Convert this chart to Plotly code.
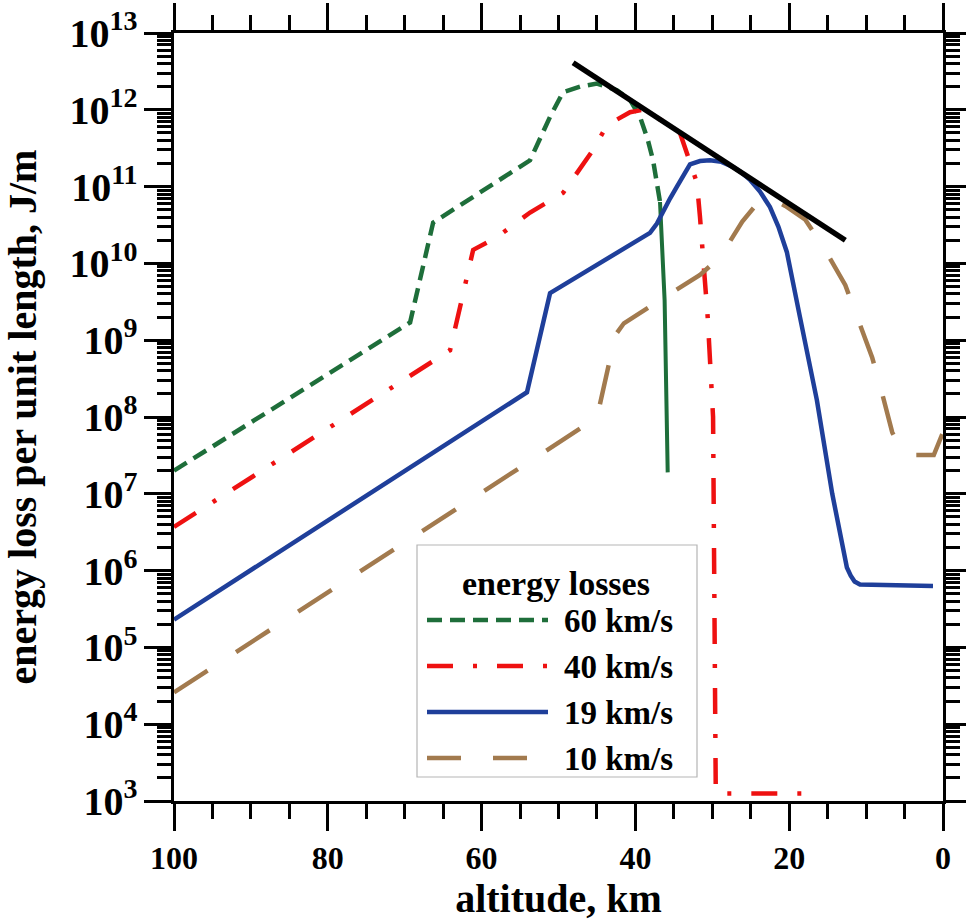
import plotly.graph_objects as go

# ---------------- data ----------------
alt_60_dash = [100, 69.3, 66.3, 53.7, 51.1, 49.4, 47.2, 45.0, 42.4, 40.7, 39.4, 38.4, 37.7, 37.1, 36.8]
e_60_dash = [2.0e7, 1.7e9, 3.4e10, 2.2e11, 8.1e11, 1.7e12, 2.0e12, 2.2e12, 1.8e12, 1.35e12, 8.1e11, 4.1e11, 2.2e11, 9.1e10, 6.3e10]
alt_60_solid = [36.8, 36.2, 35.8]
e_60_solid = [6.3e10, 3.3e9, 1.9e7]

alt_40 = [100, 64.1, 62.8, 61.1, 58.0, 53.7, 49.4, 47.2, 45.5, 43.7, 40.7, 39.0, 36.5, 34.2, 33.2, 32.0,
          31.6, 30.6, 29.9, 29.7, 29.55, 29.0, 17.8]
e_40 = [3.7e6, 7.4e8, 2.7e9, 1.5e10, 2.2e10, 4.6e10, 8.3e10, 1.66e11, 3.0e11, 6.3e11, 9.3e11, 1.0e12, 7.2e11,
        5.0e11, 2.45e11, 1.12e11, 4.0e10, 2.0e9, 1.0e8, 3.2e5, 1.3e3, 1.25e3, 1.25e3]

alt_19 = [100, 54.1, 51.1, 38.1, 37.2, 36.5, 35.5, 34.6, 33.7, 32.9, 31.6, 30.3, 28.8, 27.3, 26.2, 25.1, 23.8,
          22.5, 21.4, 20.3, 18.6, 16.4, 14.4, 12.5, 12.0, 11.5, 10.8, 1.3]
e_19 = [2.3e5, 2.1e8, 4.1e9, 2.5e10, 3.3e10, 4.6e10, 7.0e10, 1.0e11, 1.45e11, 1.95e11, 2.15e11, 2.2e11, 2.1e11,
        1.8e11, 1.52e11, 1.23e11, 8.6e10, 5.4e10, 3.0e10, 1.4e10, 2.0e9, 1.66e8, 1.0e7, 1.1e6, 8.6e5, 7.2e5, 6.6e5, 6.3e5]

alt_10 = [100, 45.0, 42.6, 41.5, 31.6, 29.0, 26.1, 24.0, 22.5, 20.5, 17.9, 15.3, 12.7, 11.1, 9.2, 7.9, 6.6, 5.3, 4.3, 1.2, 0]
e_10 = [2.6e4, 9.8e7, 1.17e9, 1.66e9, 7.1e9, 1.2e10, 3.5e10, 6.3e10, 7.2e10, 5.6e10, 3.7e10, 1.48e10, 5.2e9,
        1.95e9, 5.9e8, 2.0e8, 6.3e7, 3.5e7, 3.2e7, 3.2e7, 6.3e7]

alt_env = [48.1, 12.7]
e_env = [4.1e12, 2.0e10]

legend_labels = ["60 km/s", "40 km/s", "19 km/s", "10 km/s"]
legend_title = "energy losses"
x_ticks = [0, 20, 40, 60, 80, 100]

# ---------------- styles ----------------
C_GREEN = "#1e6e3a"
C_RED = "#ee1111"
C_BLUE = "#1f3f9a"
C_BROWN = "#a27a4e"
DASH_60 = "15px,8px"
DASH_40 = "26px,20px,4px,20px"
DASH_10 = "40px,34px"
LW = 4.5
FONT = "Liberation Serif"

fig = go.Figure()
fig.add_trace(go.Scatter(x=alt_60_dash, y=e_60_dash, mode="lines",
                         line=dict(color=C_GREEN, width=LW, dash=DASH_60), showlegend=False))
fig.add_trace(go.Scatter(x=alt_60_solid, y=e_60_solid, mode="lines",
                         line=dict(color=C_GREEN, width=LW - 0.5), showlegend=False))
fig.add_trace(go.Scatter(x=alt_40, y=e_40, mode="lines",
                         line=dict(color=C_RED, width=LW, dash=DASH_40), showlegend=False))
fig.add_trace(go.Scatter(x=alt_19, y=e_19, mode="lines",
                         line=dict(color=C_BLUE, width=LW), showlegend=False))
fig.add_trace(go.Scatter(x=alt_10, y=e_10, mode="lines",
                         line=dict(color=C_BROWN, width=LW, dash=DASH_10), showlegend=False))
fig.add_trace(go.Scatter(x=alt_env, y=e_env, mode="lines",
                         line=dict(color="black", width=5.5), showlegend=False))

# ---------------- custom legend (paper coordinates) ----------------
W, H = 966, 923
ML, MR, MT, MB = 174, 23, 33, 122
PW, PH = W - ML - MR, H - MT - MB


def px_x(p):
    return (p - ML) / PW


def px_y(p):
    return (H - MB - p) / PH


shapes = [dict(type="rect", xref="paper", yref="paper",
               x0=px_x(417), x1=px_x(697), y0=px_y(777), y1=px_y(545),
               line=dict(color="#b5b5b5", width=1.2), fillcolor="white", layer="above")]
annotations = [dict(xref="paper", yref="paper", x=px_x(556), y=px_y(583), text=legend_title,
                    showarrow=False, xanchor="center", yanchor="middle",
                    font=dict(family=FONT, size=34, color="black", weight="bold"))]
leg_styles = [(C_GREEN, DASH_60), (C_RED, DASH_40), (C_BLUE, "solid"), (C_BROWN, "34px,32px")]
leg_y = [620, 666, 712, 758]
for (col, dsh), yy, lab in zip(leg_styles, leg_y, legend_labels):
    shapes.append(dict(type="line", xref="paper", yref="paper",
                       x0=px_x(427), x1=px_x(548), y0=px_y(yy), y1=px_y(yy),
                       line=dict(color=col, width=LW, dash=dsh), layer="above"))
    annotations.append(dict(xref="paper", yref="paper", x=px_x(562), y=px_y(yy + 1), text=lab,
                            showarrow=False, xanchor="left", yanchor="middle",
                            font=dict(family=FONT, size=33, color="black", weight="bold")))

axis_common = dict(showline=True, linecolor="black", linewidth=3, mirror="allticks",
                   ticks="outside", tickcolor="black", tickwidth=3, ticklen=27,
                   showgrid=False, zeroline=False, automargin=False,
                   tickfont=dict(family=FONT, size=32, color="black", weight="bold"))

fig.update_layout(
    width=W, height=H,
    margin=dict(l=ML, r=MR, t=MT, b=MB, autoexpand=False),
    paper_bgcolor="white", plot_bgcolor="white",
    font=dict(family=FONT, color="black"),
    showlegend=False,
    xaxis=dict(range=[100, 0], tickvals=x_ticks,
               minor=dict(dtick=5, ticks="outside", ticklen=15, tickwidth=3, tickcolor="black"),
               title=dict(text="altitude, km", standoff=6,
                          font=dict(family=FONT, size=40, color="black", weight="bold")),
               **axis_common),
    yaxis=dict(type="log", range=[3, 13], dtick=1, exponentformat="power", showexponent="all",
               minor=dict(dtick="D1", ticks="outside", ticklen=14, tickwidth=2.5, tickcolor="black"),
               title=dict(text="energy loss per unit length, J/m", standoff=30,
                          font=dict(family=FONT, size=40, color="black", weight="bold")),
               **axis_common),
    shapes=shapes,
    annotations=annotations,
)

fig.write_html("out.html")
